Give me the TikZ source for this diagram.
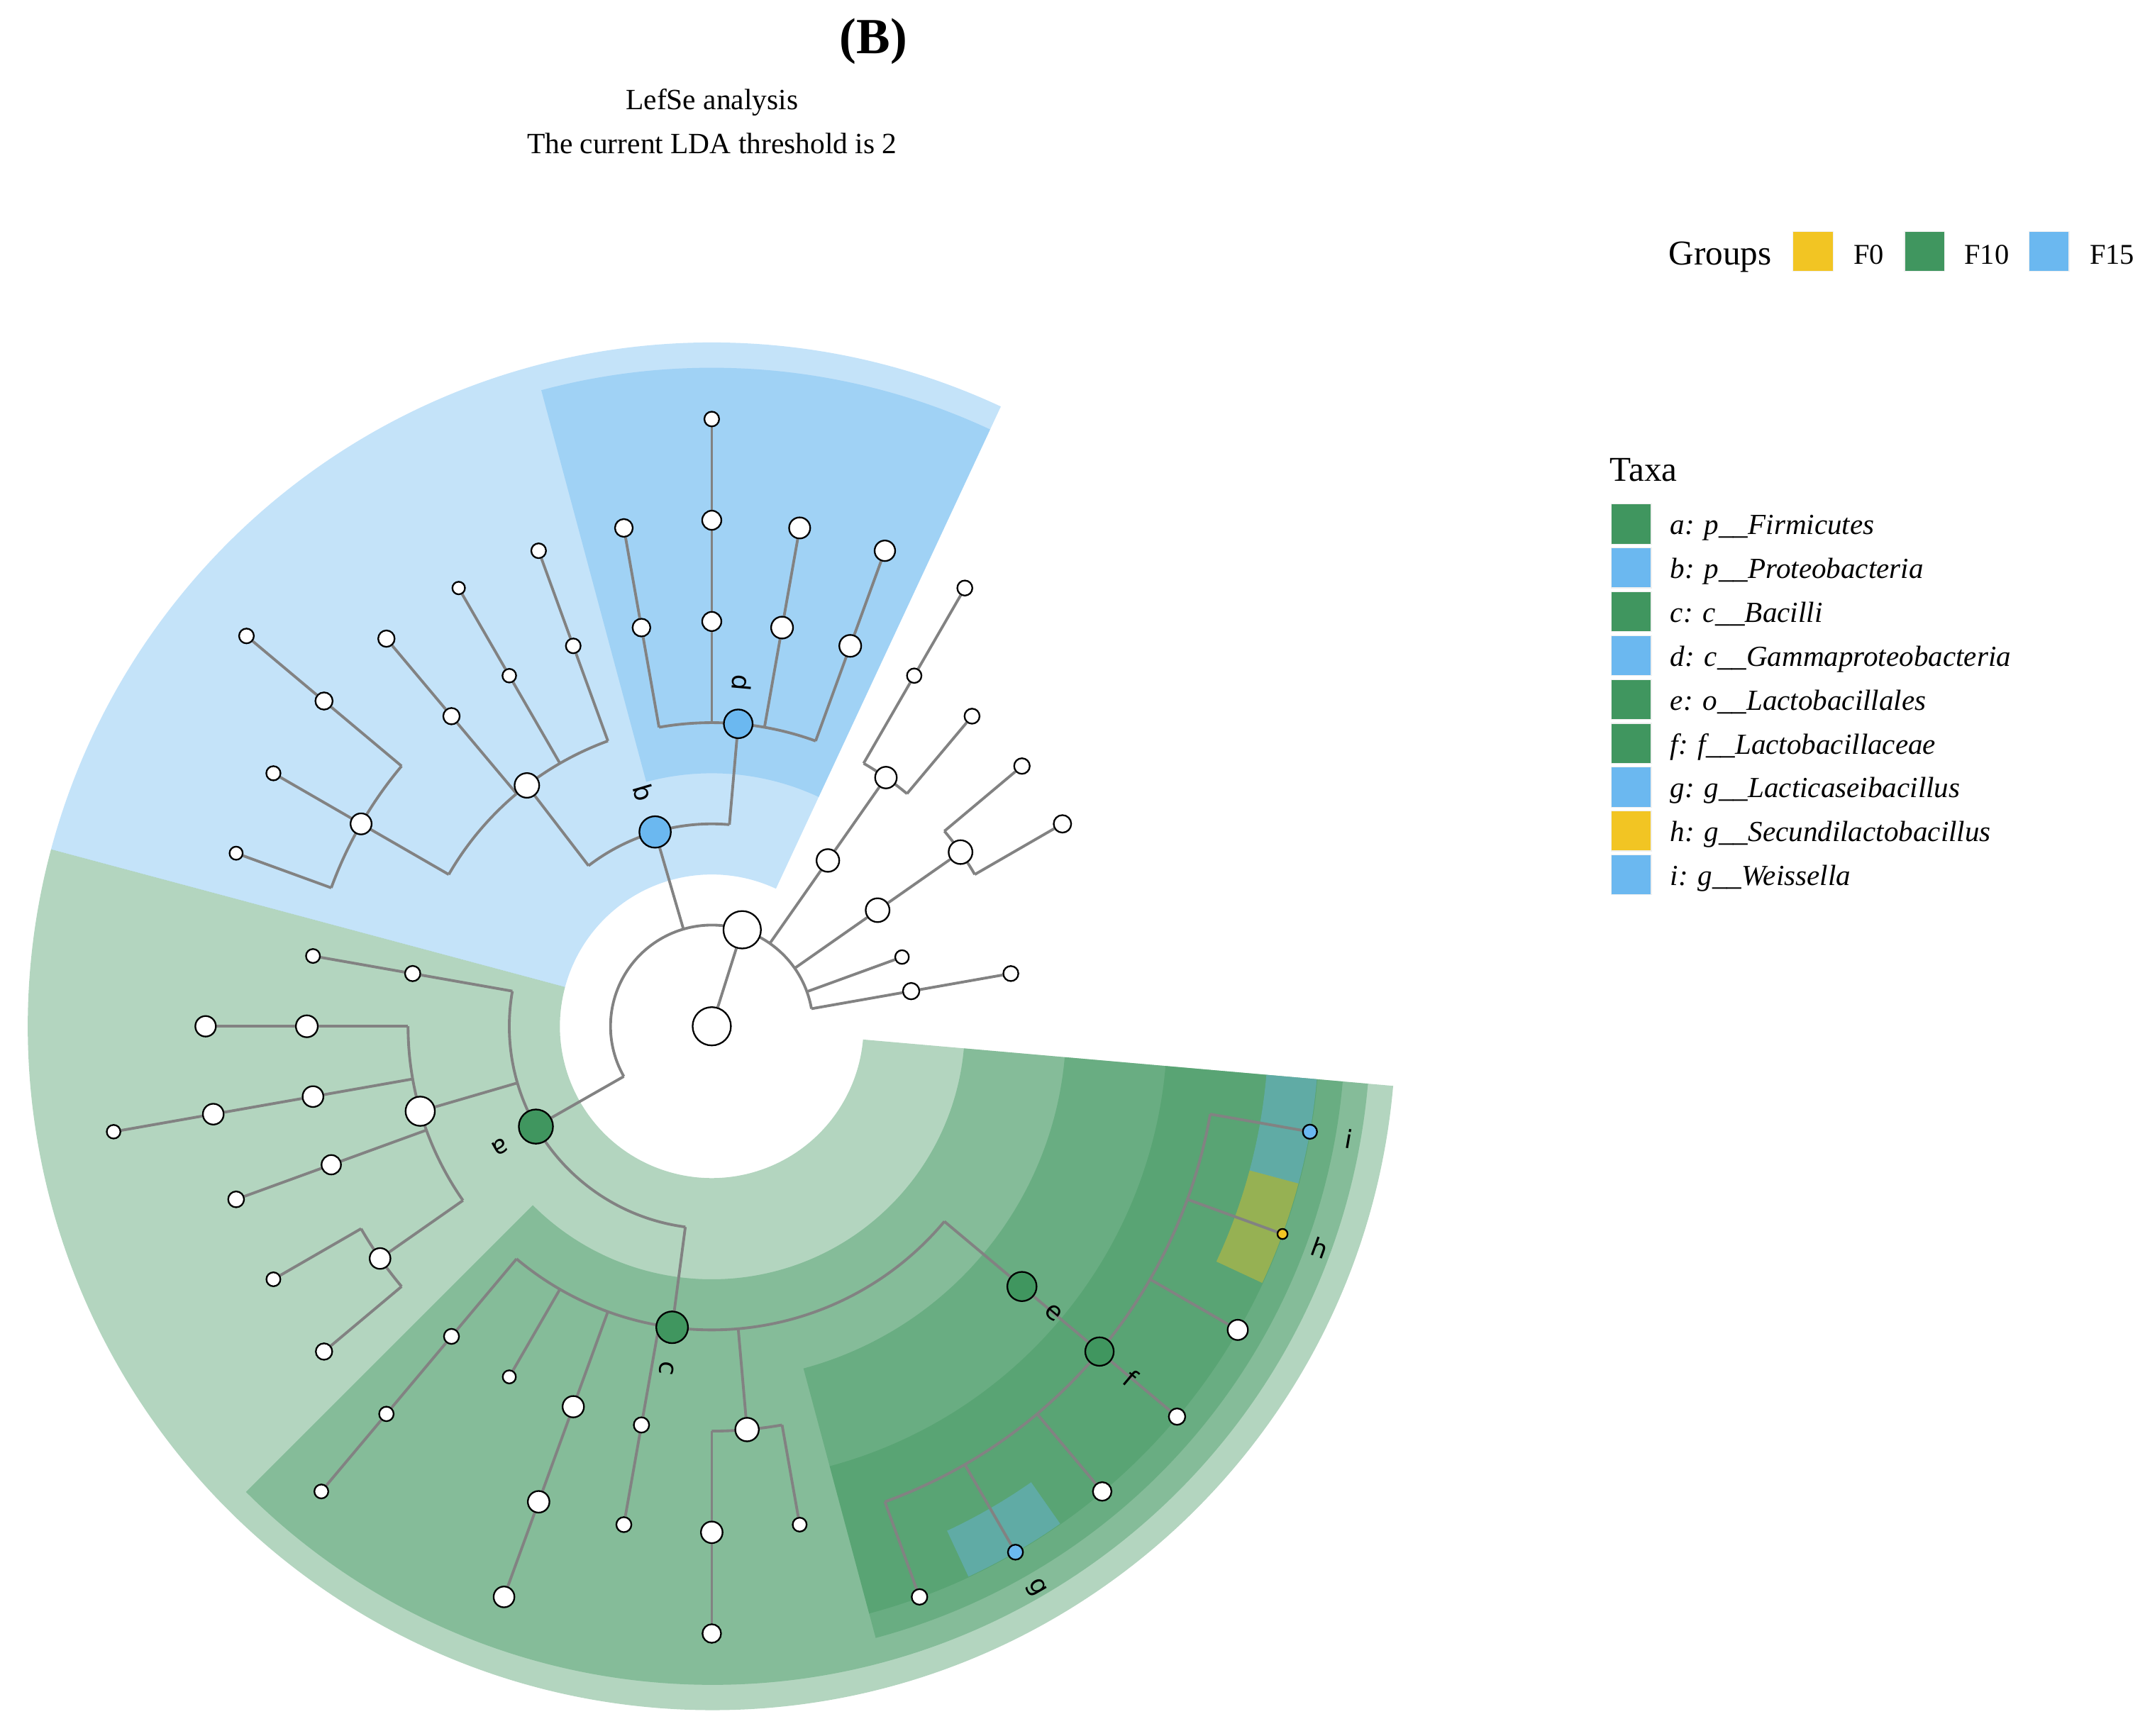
\documentclass[tikz,border=0pt]{standalone}
\usepackage{fontspec}
\setmainfont{Liberation Serif}
\newfontfamily\labfont{DejaVu Sans}
\pgfdeclarelayer{bg}
\pgfsetlayers{bg,main}
\definecolor{cFzero}{RGB}{242,197,35}
\definecolor{cFten}{RGB}{64,150,95}
\definecolor{cFfif}{RGB}{107,184,240}
\definecolor{cbr}{RGB}{130,130,130}
\tikzset{
  tn/.style={circle, draw=black, line width=1.2pt, inner sep=0pt, fill=white},
  branch/.style={draw=cbr, line width=2pt, line join=miter},
  lab/.style={font=\labfont\fontsize{18.5}{18.5}\selectfont, inner sep=0pt},
  sect/.style={fill opacity=0.4},
  keybox/.style={draw=black!6, line width=0.6pt, minimum width=29.5pt, minimum height=29.2pt, inner sep=0pt, anchor=south west},
  legtitle/.style={font=\fontsize{25.5}{28}\selectfont, inner sep=0pt, anchor=base west},
  legtext/.style={font=\fontsize{21}{24}\selectfont, inner sep=0pt, anchor=base west},
  taxtext/.style={font=\fontsize{21.3}{24}\selectfont\itshape, inner sep=0pt, anchor=base west},
  ttl/.style={font=\fontsize{21.5}{24}\selectfont, inner sep=0pt},
}
\newcommand\tn[5]{\node[tn, fill=#5, minimum size=2*#4pt] (#1) at (#2:#3pt) {};}
\newcommand\br[3]{\coordinate (#1-b) at (#2:#3pt); \draw[branch] (#1-b) -- (#1);}
\newcommand\tlink[2]{\draw[branch] (#1) -- (#2);}
\newcommand\tarc[4]{\draw[branch] (#1) arc[start angle=#2, end angle=#3, radius=#4pt];}
\newcommand\sector[5]{\fill[#1, sect] (#2:#4pt) arc[start angle=#2, end angle=#3, radius=#4pt] -- (#3:#5pt) arc[start angle=#3, end angle=#2, radius=#5pt] -- cycle;}
\begin{document}
\begin{tikzpicture}[x=1pt,y=1pt]
\useasboundingbox (-520.3,-518.6) rectangle (1047.7,750.4);
% ---------------- nodes
\node[tn, minimum size=28pt] (R) at (0,0) {};
\tn{K}{72.5}{74}{13.7}{white}
% Firmicutes
\tn{A}{209.7}{148}{12.5}{cFten}
\tn{A1}{170}{222}{5.6}{white}
\tn{A1o}{170}{296}{5.1}{white}
\tn{A2}{196.25}{222}{10.7}{white}
\tn{A2a}{180}{296}{8}{white}
\tn{A2af}{180}{370}{7.5}{white}
\tn{A2b}{190}{296}{7.6}{white}
\tn{A2bf}{190}{370}{7.6}{white}
\tn{A2bg}{190}{444}{5}{white}
\tn{A2c}{200}{296}{7.1}{white}
\tn{A2cf}{200}{370}{5.8}{white}
\tn{A2d}{215}{296}{7.6}{white}
\tn{A2d1}{210}{370}{5.1}{white}
\tn{A2d2}{220}{370}{6}{white}
\tn{C}{262.5}{222}{11.6}{cFten}
\tn{C1}{230}{296}{5.5}{white}
\tn{C1f}{230}{370}{5.3}{white}
\tn{C1g}{230}{444}{5.1}{white}
\tn{C2}{240}{296}{4.8}{white}
\tn{C3}{250}{296}{7.8}{white}
\tn{C3f}{250}{370}{7.9}{white}
\tn{C3g}{250}{444}{7.6}{white}
\tn{C4}{260}{296}{5.6}{white}
\tn{C4f}{260}{370}{5.5}{white}
\tn{C5}{275}{296}{8.6}{white}
\tn{C5a}{270}{370}{7.9}{white}
\tn{C5ag}{270}{444}{6.8}{white}
\tn{C5b}{280}{370}{5.1}{white}
\tn{E}{320}{296}{10.7}{cFten}
\tn{F}{320}{370}{10.4}{cFten}
\tn{F1}{290}{444}{5.7}{white}
\tn{G}{300}{444}{5.5}{cFfif}
\tn{F3}{310}{444}{6.8}{white}
\tn{F4}{320}{444}{6}{white}
\tn{F5}{330}{444}{7.4}{white}
\tn{H}{340}{444}{3.7}{cFzero}
\tn{I}{350}{444}{5.2}{cFfif}
% Proteobacteria
\tn{B}{106.25}{148}{11.5}{cFfif}
\tn{D}{85}{222}{10.5}{cFfif}
\tn{D1}{70}{296}{8}{white}
\tn{D1f}{70}{370}{7.5}{white}
\tn{D2}{80}{296}{8}{white}
\tn{D2f}{80}{370}{7.7}{white}
\tn{D3}{90}{296}{7}{white}
\tn{D3f}{90}{370}{7}{white}
\tn{D3g}{90}{444}{5.4}{white}
\tn{D4}{100}{296}{6.5}{white}
\tn{D4f}{100}{370}{6.5}{white}
\tn{B2}{127.5}{222}{9}{white}
\tn{B2a}{110}{296}{5.4}{white}
\tn{B2af}{110}{370}{5.4}{white}
\tn{B2b}{120}{296}{5}{white}
\tn{B2bf}{120}{370}{4.6}{white}
\tn{B2c}{130}{296}{6}{white}
\tn{B2cf}{130}{370}{6}{white}
\tn{B2d}{150}{296}{7.7}{white}
\tn{B2d1}{140}{370}{6.3}{white}
\tn{B2d1g}{140}{444}{5.4}{white}
\tn{B2d2}{150}{370}{5.2}{white}
\tn{B2d3}{160}{370}{4.8}{white}
% other phyla
\tn{P3}{55}{148}{8.3}{white}
\tn{P3c}{55}{222}{7.9}{white}
\tn{P3c1}{60}{296}{5.3}{white}
\tn{P3c1f}{60}{370}{5.5}{white}
\tn{P3c2}{50}{296}{5.5}{white}
\tn{P4}{35}{148}{8.7}{white}
\tn{P4c}{35}{222}{8.7}{white}
\tn{P4c1}{40}{296}{5.7}{white}
\tn{P4c2}{30}{296}{6.4}{white}
\tn{P5}{20}{148}{5}{white}
\tn{P6}{10}{148}{6}{white}
\tn{P6c}{10}{222}{5.5}{white}
% ---------------- background: shading and branches
\begin{pgfonlayer}{bg}
\sector{cFten}{165}{355}{111}{500}
\sector{cFfif}{65}{165}{111}{500}
\sector{cFten}{225}{355}{185}{481.5}
\sector{cFfif}{65}{105}{185}{481.5}
\sector{cFten}{285}{355}{259}{463}
\sector{cFten}{285}{355}{333}{444.5}
\sector{cFfif}{295}{305}{407}{444}
\sector{cFzero}{335}{345}{407}{444}
\sector{cFfif}{345}{355}{407}{444}
% root and kingdom
\tlink{R}{K}
\br{A}{209.7}{74} \br{B}{106.25}{74} \br{P3}{55}{74} \br{P4}{35}{74} \br{P5}{20}{74} \br{P6}{10}{74}
\tarc{P6-b}{10}{209.7}{74}
% Firmicutes
\br{A1}{170}{148} \br{A2}{196.25}{148} \br{C}{262.5}{148}
\tarc{A1-b}{170}{262.5}{148}
\tlink{A1}{A1o}
\br{A2a}{180}{222} \br{A2b}{190}{222} \br{A2c}{200}{222} \br{A2d}{215}{222}
\tarc{A2a-b}{180}{215}{222}
\tlink{A2a}{A2af}
\tlink{A2b}{A2bf} \tlink{A2bf}{A2bg}
\tlink{A2c}{A2cf}
\br{A2d1}{210}{296} \br{A2d2}{220}{296}
\tarc{A2d1-b}{210}{220}{296}
\br{C1}{230}{222} \br{C2}{240}{222} \br{C3}{250}{222} \br{C4}{260}{222} \br{C5}{275}{222} \br{E}{320}{222}
\tarc{C1-b}{230}{320}{222}
\tlink{C1}{C1f} \tlink{C1f}{C1g}
\tlink{C3}{C3f} \tlink{C3f}{C3g}
\tlink{C4}{C4f}
\br{C5a}{270}{296} \br{C5b}{280}{296}
\tarc{C5a-b}{270}{280}{296}
\tlink{C5a}{C5ag}
\tlink{E}{F}
\br{F1}{290}{370} \br{G}{300}{370} \br{F3}{310}{370} \br{F4}{320}{370} \br{F5}{330}{370} \br{H}{340}{370} \br{I}{350}{370}
\tarc{F1-b}{290}{350}{370}
% Proteobacteria
\br{D}{85}{148} \br{B2}{127.5}{148}
\tarc{D-b}{85}{127.5}{148}
\br{D1}{70}{222} \br{D2}{80}{222} \br{D3}{90}{222} \br{D4}{100}{222}
\tarc{D1-b}{70}{100}{222}
\tlink{D1}{D1f} \tlink{D2}{D2f} \tlink{D3}{D3f} \tlink{D3f}{D3g} \tlink{D4}{D4f}
\br{B2a}{110}{222} \br{B2b}{120}{222} \br{B2c}{130}{222} \br{B2d}{150}{222}
\tarc{B2a-b}{110}{150}{222}
\tlink{B2a}{B2af} \tlink{B2b}{B2bf} \tlink{B2c}{B2cf}
\br{B2d1}{140}{296} \br{B2d2}{150}{296} \br{B2d3}{160}{296}
\tarc{B2d1-b}{140}{160}{296}
\tlink{B2d1}{B2d1g}
% other phyla
\tlink{P3}{P3c}
\br{P3c1}{60}{222} \br{P3c2}{50}{222}
\tarc{P3c2-b}{50}{60}{222}
\tlink{P3c1}{P3c1f}
\tlink{P4}{P4c}
\br{P4c1}{40}{222} \br{P4c2}{30}{222}
\tarc{P4c2-b}{30}{40}{222}
\tlink{P6}{P6c}
\end{pgfonlayer}
% ---------------- clade letters
\node[lab, rotate=209.7] (la) at (209.7:178pt) {a};
\node[lab, rotate=-73.75] (lb) at (106.25:178pt) {b};
\node[lab, rotate=262.5] (lc) at (262.5:252pt) {c};
\node[lab, rotate=-95] (ld) at (85:252pt) {d};
\node[lab, rotate=320] (le) at (320:326pt) {e};
\node[lab, rotate=320] (lf) at (320:400pt) {f};
\node[lab, rotate=300] (lg) at (300:474pt) {g};
\node[lab, rotate=340] (lh) at (340:473pt) {h};
\node[lab, rotate=350] (li) at (350:473pt) {i};
% ---------------- titles
\node[font=\fontsize{37}{40}\selectfont\bfseries, inner sep=0pt] (tB) at (118.2,720.4) {(B)};
\node[ttl] (t1) at (0.2,675.4) {LefSe analysis};
\node[ttl] (t2) at (0.2,645.4) {The current LDA threshold is 2};
% ---------------- groups legend
\node[legtitle] (gt) at (699.5,556.8) {Groups};
\node[keybox, fill=cFzero] (k0) at (789.9,551.6) {};
\node[legtext] (k0t) at (834.5,557.2) {F0};
\node[keybox, fill=cFten] (k1) at (871.6,551.6) {};
\node[legtext] (k1t) at (915.5,557.2) {F10};
\node[keybox, fill=cFfif] (k2) at (962.4,551.6) {};
\node[legtext] (k2t) at (1007.1,557.2) {F15};
% ---------------- taxa legend
\node[legtitle] (tt) at (656.4,398.8) {Taxa};
\foreach \k/\c/\t in {0/cFten/{a: p\_\_Firmicutes},
                      1/cFfif/{b: p\_\_Proteobacteria},
                      2/cFten/{c: c\_\_Bacilli},
                      3/cFfif/{d: c\_\_Gammaproteobacteria},
                      4/cFten/{e: o\_\_Lactobacillales},
                      5/cFten/{f: f\_\_Lactobacillaceae},
                      6/cFfif/{g: g\_\_Lacticaseibacillus},
                      7/cFzero/{h: g\_\_Secundilactobacillus},
                      8/cFfif/{i: g\_\_Weissella}}{
  \node[keybox, fill=\c] (tx\k) at (657,{352.3-32.06*\k}) {};
  \node[taxtext] (txt\k) at (700.6,{359.5-32.06*\k}) {\t};
}
\end{tikzpicture}
\end{document}
